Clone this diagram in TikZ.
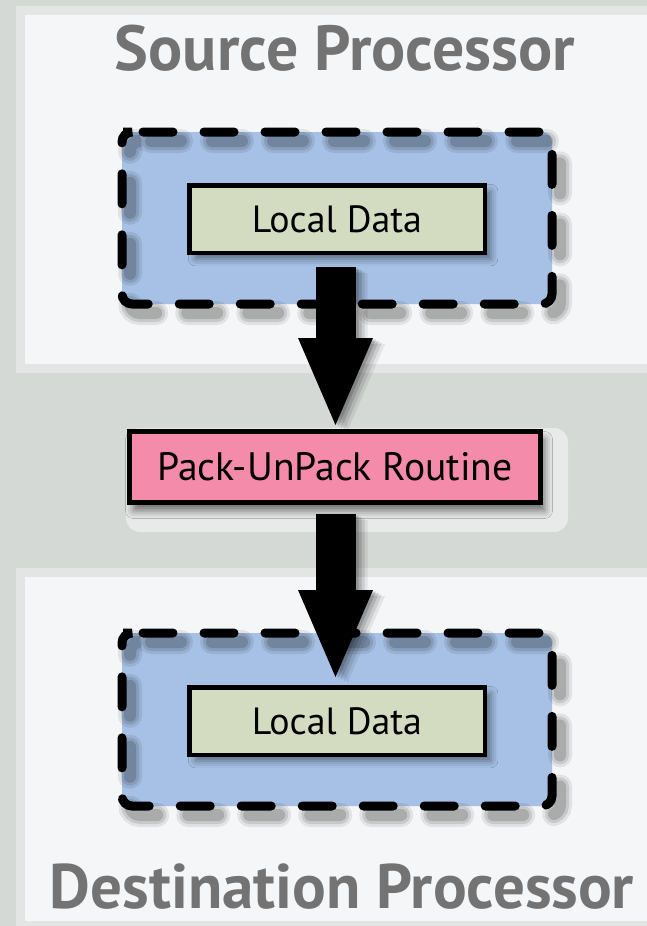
\documentclass[tikz,border=0pt]{standalone}
\usepackage{fontspec}
\usepackage{graphicx}
\setmainfont{PT Sans}
\usetikzlibrary{arrows.meta,shadows,shadows.blur,calc}

\definecolor{bggray}{HTML}{D5D9D6}
\definecolor{panelrim}{HTML}{E3E4E4}
\definecolor{panelfill}{HTML}{F5F6F8}
\definecolor{boxblue}{HTML}{A6C1E5}
\definecolor{datagreen}{HTML}{D3DBC1}
\definecolor{packpink}{HTML}{F48BAA}
\definecolor{titlegray}{HTML}{737373}

% rounded, dashed frame around a block of local data
\newcommand\framepath[2]{(133,#1) -- (552,#1) -- (552,#2) -- (122,#2) -- (122,#1) -- cycle}
\newcommand\dashedframe[2]{%
  \fill[boxblue, rounded corners=10pt] \framepath{#1}{#2};
  \foreach \w/\o in {24/0.08, 18/0.11, 12/0.15}
    \draw[framedash, shift={(8,9)}, line width=\w pt, black, opacity=\o] \framepath{#1}{#2};
  \draw[framedash, line width=9pt, black] \framepath{#1}{#2};
}

\begin{document}
\begin{tikzpicture}[x=1pt, y=-1pt,
  framedash/.style={rounded corners=10pt, line cap=round, dash pattern=on 30pt off 31pt},
  title/.style={text=titlegray, font=\bfseries, inner sep=0pt, anchor=base},
  databox/.style={draw=black, line width=4.5pt, fill=datagreen, inner sep=0pt,
    minimum width=295.5pt, minimum height=67.5pt,
    blur shadow={shadow xshift=6pt, shadow yshift=-6pt, shadow blur radius=7pt, shadow opacity=45}},
  routinebox/.style={draw=black, line width=5pt, fill=packpink, inner sep=0pt,
    minimum width=411pt, minimum height=71pt,
    blur shadow={shadow xshift=4pt, shadow yshift=-8pt, shadow blur radius=8pt, shadow opacity=55}},
  bigarrow/.style={line width=40pt, -{Triangle[width=75pt, length=87pt, line width=0pt]}},
]
\useasboundingbox (0,0) rectangle (647,926);
\fill[bggray] (0,0) rectangle (647,926);

% processor panels
\fill[panelrim] (16,6) rectangle (660,373);
\fill[panelfill] (25,15) rectangle (660,364);
\fill[panelrim] (16,568) rectangle (660,940);
\fill[panelfill] (25,577) rectangle (660,921);

\node[title] (srctitle) at (345,70) {\resizebox{460pt}{!}{Source Processor}};
\node[title] (dsttitle) at (342,908) {\resizebox{584pt}{!}{Destination Processor}};

% dashed frames
\dashedframe{132}{304}
\dashedframe{633}{806}

% data blocks and the routine between them
\node[databox] (ld1) at (337,219) {\resizebox{170pt}{!}{Local Data}};
\node[databox] (ld2) at (337,721) {\resizebox{170pt}{!}{Local Data}};

\fill[white, opacity=0.45, rounded corners=14pt] (126,428) rectangle (568,532);
\node[routinebox] (pack) at (335,467) {\resizebox{355pt}{!}{Pack-UnPack Routine}};

% connector end points
\coordinate (a1from) at ($(ld1.south)+(-1.5,12)$);
\coordinate (a1to)   at ($(pack.north)+(0.5,-4)$);
\coordinate (a2from) at ($(pack.south)+(0.5,9)$);
\coordinate (a2to)   at ($(ld2.north)+(-1.5,-8)$);

% soft shadows of the connectors
\foreach \d/\o in {3/0.16, 6/0.13, 9/0.10, 12/0.07} {
  \begin{scope}[transparency group, opacity=\o]
    \draw[bigarrow, black] ($(a1from)+(\d,0.5*\d)$) -- ($(a1to)+(\d,0.5*\d)$);
    \draw[bigarrow, black] ($(a2from)+(\d,0.5*\d)$) -- ($(a2to)+(\d,0.5*\d)$);
  \end{scope}
}

% connectors
\draw[bigarrow, black] (a1from) -- (a1to);
\draw[bigarrow, black] (a2from) -- (a2to);
\end{tikzpicture}
\end{document}
